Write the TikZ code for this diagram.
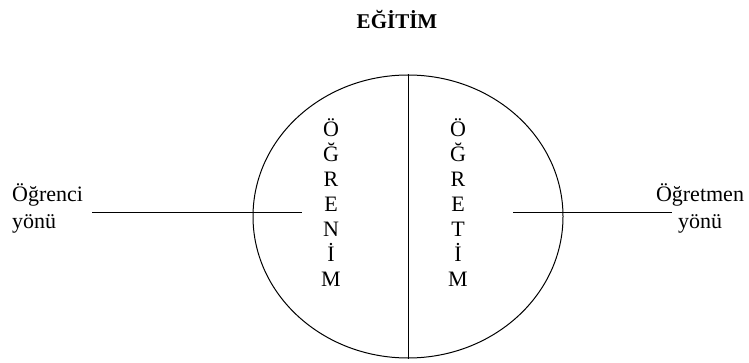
\documentclass[tikz,border=0pt]{standalone}
\usepackage{fontspec}
\setmainfont{Liberation Serif}
\usetikzlibrary{shapes.geometric}
\tikzset{
    lettercol/.style={
        align=center,
        inner sep=0pt,
        font=\fontsize{22}{25}\selectfont
    },
    sidelabel/.style={
        inner sep=0pt,
        font=\fontsize{22}{27}\selectfont
    },
    thinline/.style={
        line width=1pt,
        black
    }
}
\begin{document}
\begin{tikzpicture}[x=1pt,y=-1pt]
                \useasboundingbox (0,0) rectangle (749,363);
                \node [font=\bfseries\fontsize{21}{24}\selectfont] (title) at (397,19) {EĞİTİM};
                \node [thinline, draw, ellipse, minimum width=310pt, minimum height=283pt, inner sep=0pt] (egitim) at (408,216.5) {};
                \draw [thinline] (egitim.north) -- (egitim.south);
                \coordinate (L1) at (92,213);
                \coordinate (L2) at (302,213);
                \coordinate (R1) at (513,213);
                \coordinate (R2) at (672,213);
                \draw [thinline] (L1) -- (L2);
                \draw [thinline] (R1) -- (R2);
                \node [sidelabel, align=left, anchor=west] (ogrenciyonu) at (12,208) {Öğrenci\\yönü};
                \node [sidelabel, align=center] (ogretmenyonu) at (700,208) {Öğretmen\\yönü};
                \node [lettercol] (ogrenim) at (331,203) {Ö\\Ğ\\R\\E\\N\\İ\\M};
                \node [lettercol] (ogretim) at (458,203) {Ö\\Ğ\\R\\E\\T\\İ\\M};
            \end{tikzpicture}
\end{document}
